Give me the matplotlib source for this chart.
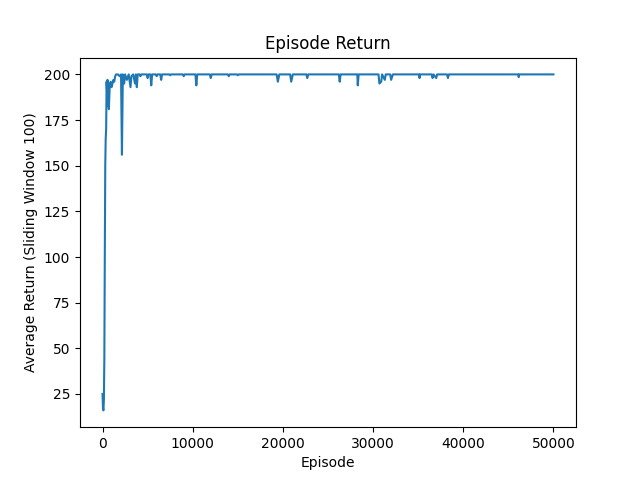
import matplotlib
matplotlib.use("Agg")
import matplotlib.pyplot as plt

episodes = [0, 50, 100, 150, 200, 250, 300, 350, 400, 450, 500, 550, 600, 650, 700,
            800, 900, 1000, 1100, 1200, 1300, 1400, 1500, 1700, 1900, 2050, 2150,
            2250, 2400, 2500, 2700, 2900, 3100, 3200, 3400, 3600, 3700, 3800, 3900,
            4100, 4200, 4300, 4900, 5000, 5100, 5300, 5400, 5500, 5900, 6000, 6100,
            6400, 6500, 6600, 7400, 7500, 7600, 8900, 9000, 9100,
            10300, 10400, 10500, 11900, 12000, 12100, 13900, 14000, 14100, 14900,
            15000, 15100, 19300, 19440, 19600, 20800, 20920, 21100, 22600, 22700,
            22800, 26200, 26300, 26400, 28250, 28300, 28400, 30600, 30700, 30900,
            31000, 31300, 31400, 31900, 32000, 32200, 35100, 35150, 35200, 36500,
            36600, 36700, 37000, 37100, 38200, 38300, 38400, 46100, 46150, 46200,
            50000]
returns = [25, 17, 16, 22, 45, 100, 150, 165, 170, 196, 190, 197, 183, 195, 181,
           194, 196, 193, 195, 197, 196, 199, 200, 200, 199, 200, 156,
           200, 195, 200, 197, 200, 193, 199, 200, 195, 200, 193, 200,
           200, 199, 200, 200, 198, 200, 200, 194, 200, 200, 199, 200,
           200, 197, 200, 200, 199.5, 200, 200, 199, 200,
           200, 194, 200, 200, 198, 200, 200, 199, 200, 200,
           199.5, 200, 200, 196, 200, 200, 196, 200, 200, 198,
           200, 200, 196, 200, 200, 194, 200, 200, 195, 196,
           200, 197, 200, 200, 197, 200, 200, 198, 200, 200,
           198, 200, 198, 200, 200, 198, 200, 200, 198.5, 200,
           200]

fig, ax = plt.subplots(figsize=(6.4, 4.8), dpi=100)
ax.plot(episodes, returns)
ax.set_title("Episode Return")
ax.set_xlabel("Episode")
ax.set_ylabel("Average Return (Sliding Window 100)")
fig.savefig("out.png")
